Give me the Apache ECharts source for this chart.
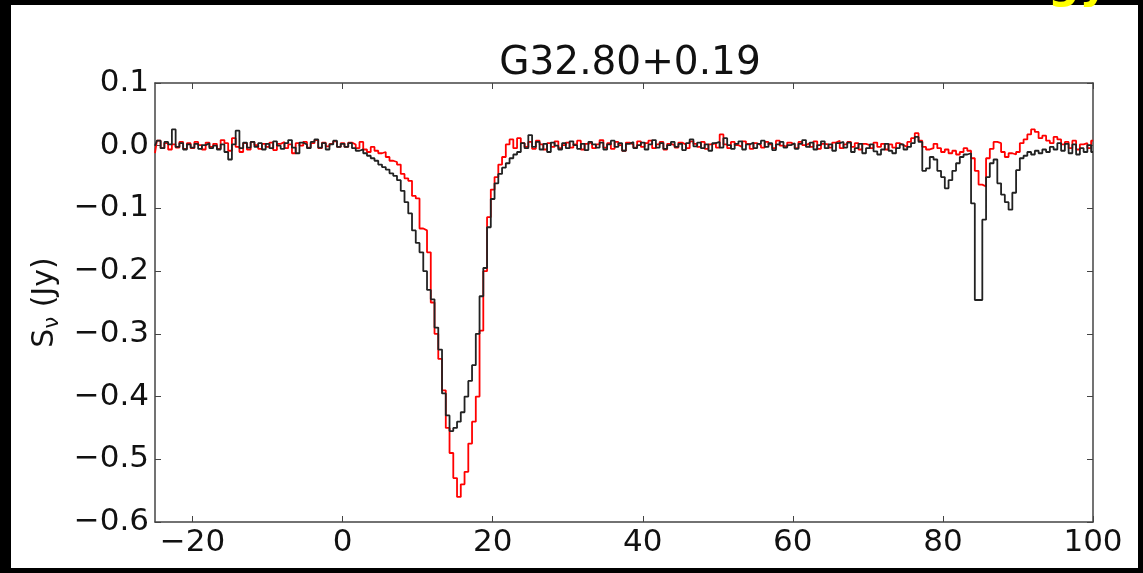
<!DOCTYPE html>
<html>
<head>
<meta charset="utf-8">
<script src="https://cdn.jsdelivr.net/npm/echarts@6/dist/echarts.min.js"></script>
<style>
html,body{margin:0;padding:0;background:#000;}
#c{width:1143px;height:573px;}
</style>
</head>
<body>
<div id="c"></div>
<script>
// Velocity channels (km/s): -25 .. 100 in 0.5 km/s steps
const velStart = -25;
const velStep = 0.5;

const xTicks = [-20, 0, 20, 40, 60, 80, 100];
const yTicks = [-0.6, -0.5, -0.4, -0.3, -0.2, -0.1, 0.0, 0.1];

// Black spectrum (Jy)
const blackFlux = [
  0.000, 0.008,-0.004, 0.006, 0.002, 0.026,-0.002, 0.004,-0.006, 0.002,
 -0.003, 0.003,-0.005, 0.001, 0.004,-0.004, 0.000,-0.006, 0.002,-0.010,
 -0.022, 0.002, 0.024,-0.004, 0.005,-0.003, 0.006,-0.002, 0.004,-0.006,
  0.003,-0.004, 0.007, 0.000,-0.005, 0.004, 0.009,-0.003,-0.012, 0.005,
  0.002,-0.004, 0.006, 0.010,-0.003, 0.004,-0.006, 0.002, 0.008,-0.002,
  0.003,-0.002, 0.004,-0.004,-0.008,-0.006,-0.012,-0.016,-0.020,-0.024,
 -0.030,-0.034,-0.038,-0.044,-0.048,-0.055,-0.072,-0.090,-0.108,-0.135,
 -0.155,-0.170,-0.200,-0.230,-0.245,-0.290,-0.325,-0.395,-0.430,-0.455,
 -0.450,-0.440,-0.425,-0.400,-0.375,-0.350,-0.300,-0.240,-0.195,-0.130,
 -0.085,-0.060,-0.045,-0.035,-0.028,-0.020,-0.014,-0.010, 0.004,-0.004,
  0.017,-0.002, 0.006,-0.006, 0.003,-0.010, 0.005, 0.000,-0.006, 0.004,
 -0.004, 0.007, 0.001,-0.005, 0.003,-0.007, 0.006, 0.002,-0.003, 0.005,
 -0.006, 0.002, 0.008,-0.002, 0.004,-0.008, 0.003, 0.006,-0.004, 0.001,
  0.005,-0.006, 0.002, 0.009,-0.003, 0.004,-0.005, 0.001, 0.006,-0.002,
  0.003,-0.007, 0.004, 0.010,-0.001, 0.005,-0.004, 0.002,-0.008, 0.004,
  0.006,-0.003, 0.012, 0.001,-0.005, 0.003, 0.007,-0.006, 0.002, 0.005,
 -0.004, 0.003, 0.008,-0.002, 0.004,-0.007, 0.002, 0.006,-0.003, 0.001,
  0.004,-0.005, 0.003, 0.009,-0.002, 0.005,-0.006, 0.001, 0.007,-0.004,
  0.002,-0.008, 0.004, 0.006,-0.003, 0.005,-0.010,-0.004, 0.003,-0.012,
 -0.004, 0.002,-0.009,-0.014,-0.006, 0.003,-0.008,-0.012,-0.004, 0.002,
 -0.006,-0.002, 0.004, 0.014, 0.006,-0.040,-0.036,-0.018,-0.022,-0.040,
 -0.050,-0.068,-0.055,-0.040,-0.028,-0.018,-0.014,-0.012,-0.092,-0.246,
 -0.246,-0.118,-0.050,-0.028,-0.022,-0.060,-0.078,-0.090,-0.102,-0.075,
 -0.039,-0.020,-0.016,-0.010,-0.014,-0.008,-0.012,-0.006,-0.010,-0.002,
 -0.006, 0.004,-0.008, 0.003,-0.012, 0.002,-0.014,-0.004,-0.010, 0.001,
 -0.010
];

// Red spectrum (Jy)
const redFlux = [
 -0.012, 0.008,-0.004, 0.004,-0.006, 0.002,-0.003, 0.006,-0.005, 0.004,
 -0.004, 0.006, 0.001,-0.006, 0.005,-0.002, 0.003,-0.005, 0.009, 0.004,
 -0.008, 0.012,-0.002,-0.010, 0.004,-0.006, 0.006, 0.001,-0.005, 0.003,
 -0.002, 0.005,-0.007, 0.003, 0.006,-0.004, 0.002,-0.012, 0.004, 0.000,
  0.006,-0.003, 0.004, 0.009,-0.004, 0.005,-0.001, 0.003, 0.007,-0.002,
  0.004,-0.002, 0.005, 0.002,-0.004, 0.006,-0.006,-0.010,-0.002,-0.008,
 -0.012,-0.010,-0.018,-0.024,-0.026,-0.030,-0.045,-0.052,-0.056,-0.080,
 -0.084,-0.132,-0.135,-0.170,-0.250,-0.300,-0.340,-0.390,-0.450,-0.490,
 -0.530,-0.560,-0.540,-0.520,-0.475,-0.440,-0.400,-0.295,-0.200,-0.114,
 -0.070,-0.050,-0.030,-0.018, 0.002, 0.010,-0.004, 0.012, 0.004,-0.002,
  0.006,-0.005, 0.008, 0.002,-0.006, 0.004,-0.002, 0.007,-0.004, 0.001,
  0.005,-0.003, 0.002, 0.008,-0.006, 0.003, 0.006,-0.004, 0.002, 0.009,
 -0.003, 0.004,-0.005, 0.006, 0.001,-0.008, 0.005, 0.002,-0.003, 0.007,
 -0.002, 0.004, 0.008,-0.004, 0.002, 0.006,-0.006, 0.003, 0.001,-0.003,
  0.005, 0.002,-0.004, 0.007, 0.003,-0.002, 0.006,-0.005, 0.002, 0.004,
 -0.003, 0.018, 0.002,-0.004, 0.006, 0.001,-0.002, 0.007, 0.003,-0.005,
  0.004, 0.001,-0.003, 0.006, 0.002,-0.004, 0.008, 0.000,-0.002, 0.005,
  0.002,-0.004, 0.006, 0.001, 0.004,-0.002, 0.007,-0.005, 0.003, 0.002,
 -0.003, 0.005, 0.008,-0.004, 0.002, 0.006,-0.002, 0.004,-0.006, 0.003,
  0.001,-0.004, 0.005,-0.002, 0.003,-0.006, 0.002,-0.003, 0.004, 0.001,
 -0.002, 0.006, 0.012, 0.020, 0.008,-0.002,-0.006,-0.004, 0.003,-0.004,
 -0.010,-0.006,-0.012,-0.008,-0.014,-0.010,-0.004,-0.008,-0.020,-0.040,
 -0.062,-0.065,-0.020,-0.005, 0.006, 0.004,-0.010,-0.018,-0.012,-0.014,
 -0.010, 0.004, 0.010, 0.018, 0.026, 0.022, 0.012, 0.016, 0.008, 0.004,
  0.014, 0.010, 0.002, 0.006,-0.004, 0.008,-0.006, 0.002, 0.004,-0.004,
  0.008
];

const titleText = 'G32.80+0.19';

function toPairs(arr) {
  return arr.map((s, i) => [velStart + i * velStep, s]);
}
function fmtY(v) {
  if (Math.abs(v) < 1e-9) return '0.0';
  return v.toFixed(1).replace('-', '\u2212');
}
function fmtX(v) {
  return String(v).replace('-', '\u2212');
}

const FONT = 'DejaVu Sans';
const AXC = '#444';
const LBL = 31;

const chart = echarts.init(document.getElementById('c'), null, {renderer: 'canvas'});
chart.setOption({
  backgroundColor: '#000',
  animation: false,
  title: {
    text: titleText,
    left: 625, top: 39, textAlign: 'center',
    textStyle: {fontFamily: FONT, fontSize: 39, fontWeight: 'normal', color: '#111'}
  },
  graphic: [
    {type: 'rect', z: -100, silent: true, shape: {x: 11, y: 5, width: 1127, height: 563}, style: {fill: '#fff'}},
    {type: 'text', z: 100, silent: true, x: 1048, y: 9,
     style: {text: 'gy', fill: '#ffff00', font: 'bold 44px "DejaVu Sans"', verticalAlign: 'bottom', align: 'left'}}
  ],
  grid: {left: 155, right: 50, top: 83, bottom: 51, containLabel: false},
  xAxis: [{
    type: 'value', min: -25, max: 100,
    axisLine: {show: true, onZero: false, lineStyle: {color: AXC, width: 1.5}},
    axisTick: {show: true, inside: true, length: 6, customValues: xTicks, lineStyle: {color: AXC}},
    axisLabel: {customValues: xTicks, formatter: fmtX, fontFamily: FONT, fontSize: LBL, color: '#111', margin: 5},
    splitLine: {show: false}
  }, {
    type: 'value', min: -25, max: 100, position: 'top',
    axisLine: {show: true, onZero: false, lineStyle: {color: AXC, width: 1.5}},
    axisTick: {show: true, inside: true, length: 6, customValues: xTicks, lineStyle: {color: AXC}},
    axisLabel: {show: false},
    splitLine: {show: false}
  }],
  yAxis: [{
    type: 'value', min: -0.6, max: 0.1, interval: 0.1,
    name: '{s|S}{sub|\u03bd}{s| (Jy)}',
    nameLocation: 'middle', nameGap: 90, nameRotate: 90,
    nameTextStyle: {rich: {
      s: {fontFamily: FONT, fontSize: 30, color: '#111'},
      sub: {fontFamily: FONT, fontSize: 21, color: '#111', verticalAlign: 'bottom', padding: [14, 0, 0, 0]}
    }},
    axisLine: {show: true, onZero: false, lineStyle: {color: AXC, width: 1.5}},
    axisTick: {show: true, inside: true, length: 6, lineStyle: {color: AXC}},
    axisLabel: {formatter: fmtY, fontFamily: FONT, fontSize: LBL, color: '#111', margin: 6},
    splitLine: {show: false}
  }, {
    type: 'value', min: -0.6, max: 0.1, interval: 0.1, position: 'right',
    axisLine: {show: true, onZero: false, lineStyle: {color: AXC, width: 1.5}},
    axisTick: {show: true, inside: true, length: 6, lineStyle: {color: AXC}},
    axisLabel: {show: false},
    splitLine: {show: false}
  }],
  series: [{
    name: 'red', type: 'line', step: 'middle', showSymbol: false, symbol: 'none',
    data: toPairs(redFlux), lineStyle: {color: '#ff0000', width: 1.8}, z: 2
  }, {
    name: 'black', type: 'line', step: 'middle', showSymbol: false, symbol: 'none',
    data: toPairs(blackFlux), lineStyle: {color: '#222', width: 1.8}, z: 3
  }]
});
</script>
</body>
</html>
